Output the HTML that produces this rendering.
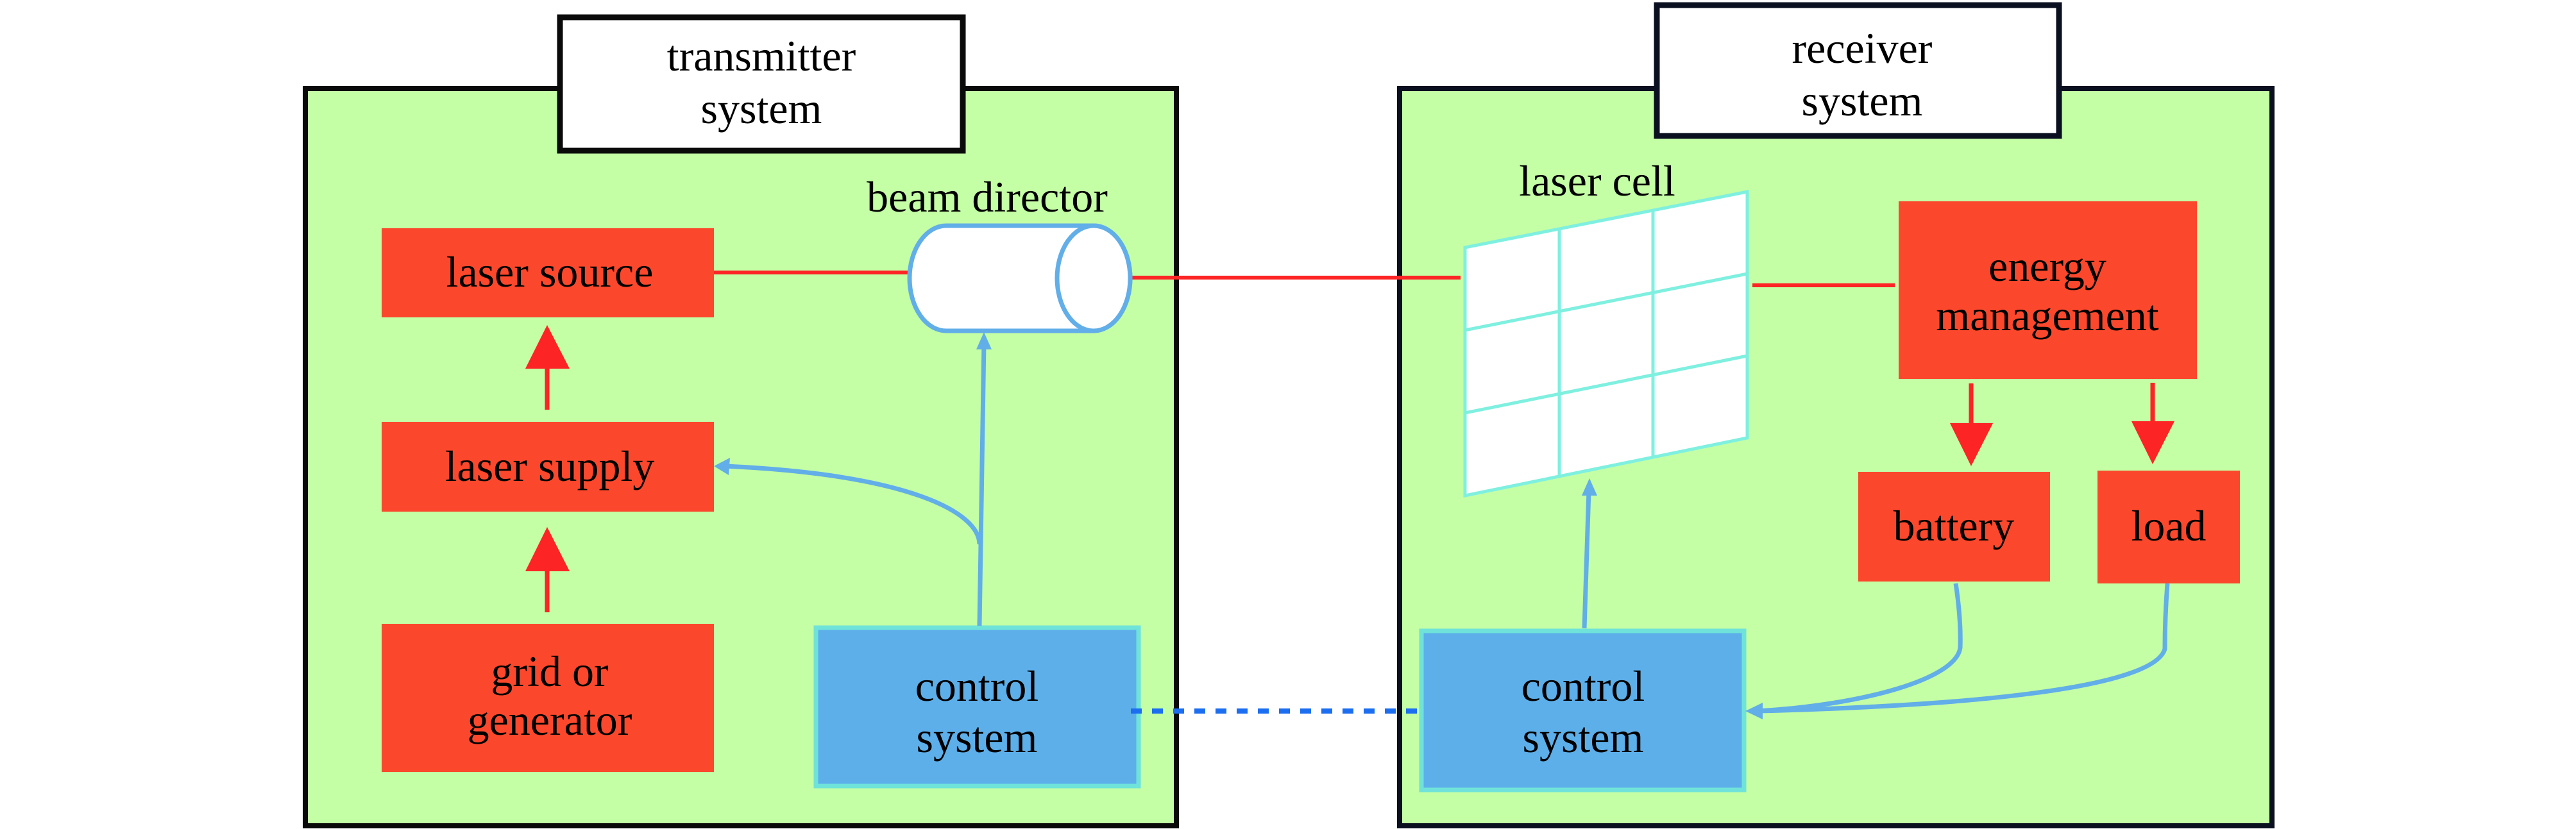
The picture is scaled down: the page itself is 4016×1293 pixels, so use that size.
<!DOCTYPE html>
<html><head><meta charset="utf-8"><style>html,body{margin:0;padding:0;background:#fff}svg{display:block}text{font-family:"Liberation Serif","DejaVu Serif","Times New Roman",Times,serif !important;font-size:68px}</style></head>
<body>
<svg width="4016" height="1293" viewBox="0 0 4016 1293" xmlns="http://www.w3.org/2000/svg" text-anchor="middle" font-family="'Liberation Serif', 'DejaVu Serif', serif">
<rect x="476" y="138" width="1358" height="1150" fill="#c4fea5" stroke="#0a0a0a" stroke-width="8"/>
<rect x="2182" y="138" width="1360" height="1150" fill="#c4fea5" stroke="#0a1020" stroke-width="8"/>
<rect x="873" y="27" width="628" height="208" fill="#fff" stroke="#0a0a0a" stroke-width="9"/>
<text x="1187" y="110">transmitter</text>
<text x="1187" y="192">system</text>
<rect x="2583" y="8" width="627" height="204" fill="#fff" stroke="#0a1020" stroke-width="9"/>
<text x="2903" y="98">receiver</text>
<text x="2903" y="180">system</text>
<rect x="595" y="356" width="518" height="139" fill="#fb482c"/>
<text x="857" y="447">laser source</text>
<rect x="595" y="658" width="518" height="140" fill="#fb482c"/>
<text x="857" y="750">laser supply</text>
<rect x="595" y="973" width="518" height="231" fill="#fb482c"/>
<text x="857" y="1070">grid or</text>
<text x="857" y="1146">generator</text>
<line x1="853" y1="639" x2="853" y2="570" stroke="#fc2424" stroke-width="7"/>
<polygon points="853,507 819,575 888,575" fill="#fc2424"/>
<line x1="853" y1="955" x2="853" y2="885" stroke="#fc2424" stroke-width="7"/>
<polygon points="853,822 819,891 888,891" fill="#fc2424"/>
<line x1="1113" y1="425" x2="1416" y2="425" stroke="#fc2424" stroke-width="6"/>
<line x1="1763" y1="433" x2="2277" y2="433" stroke="#fc2424" stroke-width="6"/>
<line x1="2732" y1="445" x2="2954" y2="445" stroke="#fc2424" stroke-width="6"/>
<path d="M1475,352 L1705,352 A57,82 0 0 1 1705,516 L1475,516 A57,82 0 0 1 1475,352 Z" fill="#fff" stroke="#62aee8" stroke-width="7"/>
<ellipse cx="1705" cy="434" rx="57" ry="82" fill="#fff" stroke="#62aee8" stroke-width="7"/>
<text x="1539" y="330">beam director</text>
<rect x="1272" y="979" width="503" height="247" fill="#5dafea" stroke="#6fe3d9" stroke-width="7"/>
<text x="1523" y="1093">control</text>
<text x="1523" y="1173">system</text>
<g stroke="#62aee8" stroke-width="7" fill="none">
<path d="M1527,976 L1534,535"/>
<path d="M1527,849 C1527,800 1420,740 1130,727"/>
</g>
<polygon points="1534,518 1522,545 1546,545" fill="#62aee8"/>
<polygon points="1113,727 1138,714 1136,741" fill="#62aee8"/>
<line x1="1763" y1="1109" x2="2212" y2="1109" stroke="#1b6ef0" stroke-width="8" stroke-dasharray="17,16"/>
<g stroke="#7ff0e0" stroke-width="5" fill="none">
<polygon points="2284,386 2724,299 2724,683 2284,773" fill="#fff"/>
<line x1="2431" y1="357" x2="2431" y2="744"/>
<line x1="2577" y1="328" x2="2577" y2="714"/>
<line x1="2284" y1="515" x2="2724" y2="427"/>
<line x1="2284" y1="644" x2="2724" y2="555"/>
</g>
<text x="2490" y="305">laser cell</text>
<rect x="2960" y="314" width="465" height="277" fill="#fb482c"/>
<text x="3192" y="438">energy</text>
<text x="3192" y="515">management</text>
<rect x="2897" y="736" width="299" height="171" fill="#fb482c"/>
<text x="3046" y="843">battery</text>
<rect x="3270" y="734" width="222" height="176" fill="#fb482c"/>
<text x="3381" y="843">load</text>
<line x1="3073" y1="598" x2="3073" y2="665" stroke="#fc2424" stroke-width="7"/>
<polygon points="3073,727 3040,660 3107,660" fill="#fc2424"/>
<line x1="3356" y1="597" x2="3356" y2="662" stroke="#fc2424" stroke-width="7"/>
<polygon points="3356,724 3323,657 3390,657" fill="#fc2424"/>
<rect x="2216" y="984" width="503" height="248" fill="#5dafea" stroke="#6fe3d9" stroke-width="7"/>
<text x="2468" y="1093">control</text>
<text x="2468" y="1173">system</text>
<g stroke="#62aee8" stroke-width="7" fill="none">
<path d="M2470,980 L2477,765"/>
<path d="M3049,910 C3055,950 3057,980 3056,1010 C3050,1060 2900,1100 2740,1109"/>
<path d="M3379,910 C3376,950 3375,980 3375,1012 C3360,1070 3100,1100 2740,1109"/>
</g>
<polygon points="2478,746 2466,773 2490,773" fill="#62aee8"/>
<polygon points="2721,1109 2748,1096 2748,1122" fill="#62aee8"/>
</svg>
</body></html>
